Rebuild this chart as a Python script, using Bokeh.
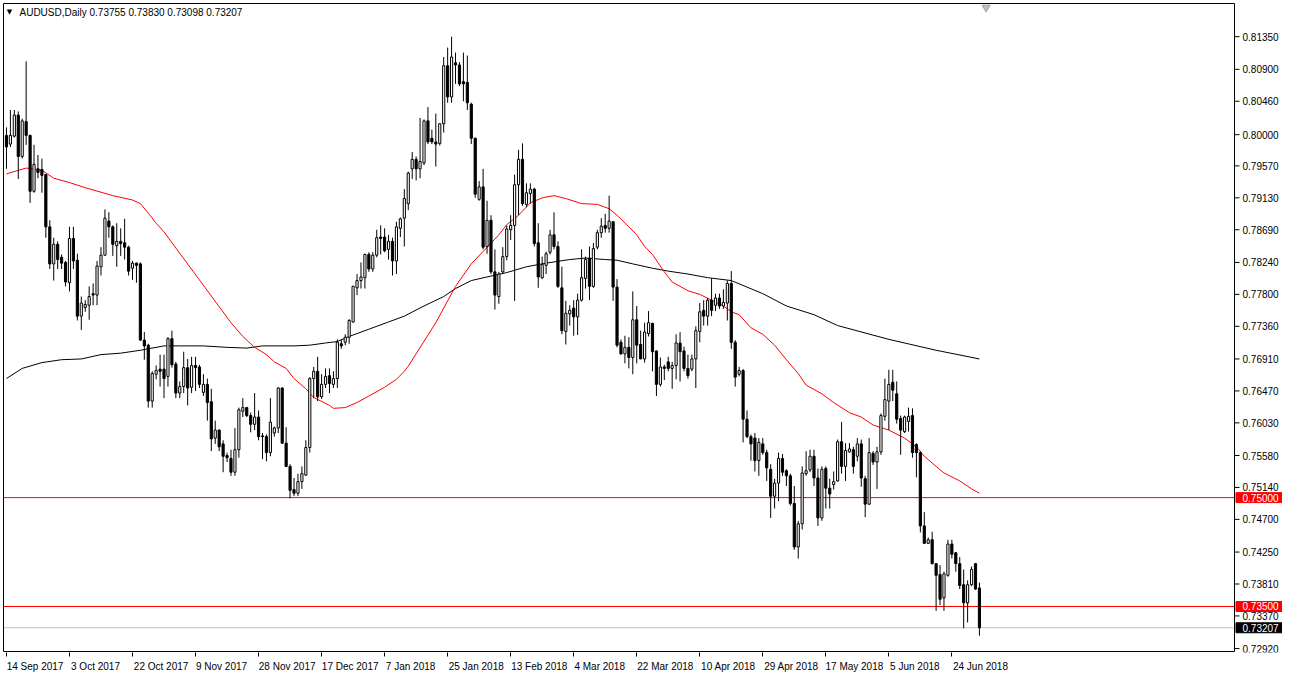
import numpy as np
from bokeh.plotting import figure
from bokeh.models import (Range1d, LinearAxis, FixedTicker, ColumnDataSource,
                          CustomJSTickFormatter)
from bokeh.core.properties import value
from bokeh.embed import file_html
from bokeh.resources import INLINE

symbol = "AUDUSD"
timeframe = "Daily"

opens = [
    0.7999, 0.7987, 0.7998, 0.8027, 0.7970, 0.8018, 0.7999, 0.7922, 0.7953, 0.7952,
    0.7945, 0.7873, 0.7822, 0.7849, 0.7831, 0.7824, 0.7796, 0.7857, 0.7827, 0.7750,
    0.7762, 0.7765, 0.7781, 0.7779, 0.7818, 0.7834, 0.7881, 0.7873, 0.7847, 0.7853,
    0.7851, 0.7845, 0.7816, 0.7823, 0.7822, 0.7717, 0.7710, 0.7633, 0.7670, 0.7677,
    0.7677, 0.7667, 0.7719, 0.7684, 0.7644, 0.7653, 0.7679, 0.7652, 0.7682, 0.7680,
    0.7645, 0.7656, 0.7632, 0.7582, 0.7593, 0.7574, 0.7558, 0.7554, 0.7535, 0.7566,
    0.7619, 0.7624, 0.7613, 0.7601, 0.7611, 0.7585, 0.7584, 0.7562, 0.7589, 0.7596,
    0.7651, 0.7575, 0.7543, 0.7511, 0.7506, 0.7522, 0.7531, 0.7569, 0.7664, 0.7674,
    0.7639, 0.7656, 0.7668, 0.7656, 0.7664, 0.7712, 0.7714, 0.7721, 0.7742, 0.7789,
    0.7799, 0.7803, 0.7835, 0.7815, 0.7834, 0.7859, 0.7859, 0.7842, 0.7853, 0.7826,
    0.7871, 0.7885, 0.7905, 0.7953, 0.7966, 0.7953, 0.7961, 0.8019, 0.7995, 0.7990,
    0.7988, 0.8015, 0.8095, 0.8052, 0.8099, 0.8096, 0.8073, 0.8072, 0.8042, 0.7995,
    0.7911, 0.7928, 0.7846, 0.7882, 0.7811, 0.7777, 0.7811, 0.7832, 0.7869, 0.7875,
    0.7931, 0.7966, 0.7904, 0.7919, 0.7925, 0.7851, 0.7803, 0.7820, 0.7838, 0.7862,
    0.7846, 0.7789, 0.7729, 0.7753, 0.7761, 0.7749, 0.7772, 0.7802, 0.7830, 0.7791,
    0.7845, 0.7865, 0.7875, 0.7871, 0.7880, 0.7790, 0.7714, 0.7698, 0.7707, 0.7693,
    0.7745, 0.7711, 0.7691, 0.7726, 0.7740, 0.7702, 0.7656, 0.7680, 0.7687, 0.7678,
    0.7682, 0.7713, 0.7702, 0.7678, 0.7677, 0.7691, 0.7729, 0.7758, 0.7750, 0.7772,
    0.7765, 0.7775, 0.7764, 0.7768, 0.7795, 0.7714, 0.7670, 0.7675, 0.7608, 0.7584,
    0.7582, 0.7551, 0.7574, 0.7562, 0.7539, 0.7502, 0.7520, 0.7554, 0.7537, 0.7530,
    0.7492, 0.7432, 0.7464, 0.7533, 0.7538, 0.7557, 0.7527, 0.7472, 0.7540, 0.7513,
    0.7518, 0.7523, 0.7577, 0.7543, 0.7563, 0.7566, 0.7557, 0.7574, 0.7526, 0.7491,
    0.7561, 0.7549, 0.7563, 0.7612, 0.7633, 0.7659, 0.7643, 0.7609, 0.7591, 0.7605,
    0.7613, 0.7573, 0.7562, 0.7461, 0.7437, 0.7442, 0.7409, 0.7394, 0.7362, 0.7393,
    0.7436, 0.7424, 0.7409, 0.7380, 0.7355, 0.7380, 0.7409, 0.73755,
]
highs = [
    0.8010, 0.8034, 0.8034, 0.8032, 0.8022, 0.8101, 0.8000, 0.7986, 0.7972, 0.7967,
    0.7946, 0.7882, 0.7858, 0.7853, 0.7835, 0.7826, 0.7873, 0.7873, 0.7836, 0.7777,
    0.7772, 0.7791, 0.7795, 0.7826, 0.7845, 0.7897, 0.7893, 0.7875, 0.7878, 0.7871,
    0.7884, 0.7847, 0.7826, 0.7824, 0.7824, 0.7728, 0.7712, 0.7674, 0.7682, 0.7697,
    0.7697, 0.7721, 0.7730, 0.7687, 0.7660, 0.7701, 0.7691, 0.7694, 0.7694, 0.7683,
    0.7670, 0.7664, 0.7650, 0.7606, 0.7594, 0.7579, 0.7562, 0.7566, 0.7596, 0.7624,
    0.7637, 0.7625, 0.7617, 0.7644, 0.7620, 0.7589, 0.7587, 0.7637, 0.7598, 0.7652,
    0.7652, 0.7597, 0.7546, 0.7527, 0.7533, 0.7543, 0.7579, 0.7666, 0.7680, 0.7694,
    0.7670, 0.7678, 0.7678, 0.7674, 0.7718, 0.7718, 0.7725, 0.7746, 0.7792, 0.7808,
    0.7824, 0.7836, 0.7838, 0.7838, 0.7869, 0.7875, 0.7871, 0.7862, 0.7858, 0.7880,
    0.7886, 0.7925, 0.7949, 0.7976, 0.7970, 0.8023, 0.8021, 0.8038, 0.8007, 0.8029,
    0.8016, 0.8107, 0.8120, 0.8135, 0.8113, 0.8100, 0.8113, 0.8109, 0.8044, 0.7996,
    0.7936, 0.7953, 0.7909, 0.7889, 0.7842, 0.7811, 0.7845, 0.7875, 0.7889, 0.7945,
    0.7979, 0.7988, 0.7933, 0.7933, 0.7927, 0.7878, 0.7832, 0.7839, 0.7869, 0.7893,
    0.7853, 0.7818, 0.7771, 0.7765, 0.7772, 0.7781, 0.7842, 0.7832, 0.7846, 0.7851,
    0.7869, 0.7885, 0.7891, 0.7916, 0.7881, 0.7801, 0.7718, 0.7723, 0.7721, 0.7784,
    0.7764, 0.7730, 0.7741, 0.7757, 0.7741, 0.7703, 0.7693, 0.7683, 0.7694, 0.7687,
    0.7725, 0.7728, 0.7708, 0.7697, 0.7697, 0.7736, 0.7768, 0.7772, 0.7775, 0.7802,
    0.7781, 0.7781, 0.7787, 0.7799, 0.7812, 0.7717, 0.7680, 0.7677, 0.7620, 0.7587,
    0.7589, 0.7582, 0.7582, 0.7566, 0.7546, 0.7526, 0.7562, 0.7560, 0.7539, 0.7533,
    0.7516, 0.7468, 0.7543, 0.7564, 0.7566, 0.7566, 0.7540, 0.7543, 0.7543, 0.7526,
    0.7536, 0.7580, 0.7604, 0.7575, 0.7575, 0.7570, 0.7582, 0.7580, 0.7530, 0.7582,
    0.7564, 0.7570, 0.7616, 0.7664, 0.7676, 0.7676, 0.7660, 0.7613, 0.7613, 0.7624,
    0.7623, 0.7575, 0.7564, 0.7480, 0.7445, 0.7453, 0.7410, 0.7407, 0.7398, 0.7442,
    0.7442, 0.7425, 0.7418, 0.7401, 0.7386, 0.7405, 0.7410, 0.73830,
]
lows = [
    0.7953, 0.7983, 0.7996, 0.7939, 0.7967, 0.7986, 0.7906, 0.7920, 0.7940, 0.7920,
    0.7858, 0.7815, 0.7799, 0.7815, 0.7815, 0.7791, 0.7784, 0.7815, 0.7744, 0.7731,
    0.7756, 0.7745, 0.7765, 0.7765, 0.7806, 0.7833, 0.7858, 0.7833, 0.7818, 0.7833,
    0.7828, 0.7806, 0.7800, 0.7796, 0.7716, 0.7690, 0.7624, 0.7624, 0.7663, 0.7653,
    0.7637, 0.7653, 0.7679, 0.7637, 0.7637, 0.7644, 0.7627, 0.7644, 0.7647, 0.7651,
    0.7640, 0.7606, 0.7564, 0.7574, 0.7564, 0.7535, 0.7549, 0.7530, 0.7530, 0.7555,
    0.7611, 0.7611, 0.7590, 0.7593, 0.7579, 0.7553, 0.7550, 0.7557, 0.7584, 0.7589,
    0.7574, 0.7542, 0.7499, 0.7502, 0.7502, 0.7512, 0.7530, 0.7562, 0.7637, 0.7633,
    0.7636, 0.7651, 0.7644, 0.7651, 0.7651, 0.7705, 0.7710, 0.7712, 0.7741, 0.7779,
    0.7788, 0.7788, 0.7811, 0.7811, 0.7831, 0.7835, 0.7838, 0.7828, 0.7806, 0.7808,
    0.7859, 0.7846, 0.7896, 0.7939, 0.7937, 0.7940, 0.7958, 0.7987, 0.7987, 0.7956,
    0.7985, 0.8003, 0.8044, 0.8044, 0.8070, 0.8067, 0.8046, 0.8034, 0.7987, 0.7913,
    0.7909, 0.7842, 0.7836, 0.7808, 0.7759, 0.7767, 0.7808, 0.7827, 0.7855, 0.7771,
    0.7889, 0.7902, 0.7900, 0.7905, 0.7846, 0.7789, 0.7801, 0.7808, 0.7835, 0.7842,
    0.7789, 0.7725, 0.7711, 0.7737, 0.7723, 0.7724, 0.7770, 0.7788, 0.7772, 0.7789,
    0.7842, 0.7858, 0.7865, 0.7865, 0.7771, 0.7707, 0.7697, 0.7685, 0.7678, 0.7670,
    0.7685, 0.7691, 0.7686, 0.7722, 0.7674, 0.7640, 0.7653, 0.7662, 0.7674, 0.7650,
    0.7663, 0.7660, 0.7674, 0.7664, 0.7674, 0.7651, 0.7714, 0.7737, 0.7737, 0.7750,
    0.7757, 0.7760, 0.7760, 0.7744, 0.7705, 0.7653, 0.7667, 0.7576, 0.7582, 0.7551,
    0.7536, 0.7530, 0.7559, 0.7523, 0.7472, 0.7485, 0.7495, 0.7530, 0.7516, 0.7489,
    0.7428, 0.7416, 0.7456, 0.7530, 0.7535, 0.7516, 0.7461, 0.7468, 0.7485, 0.7485,
    0.7511, 0.7522, 0.7533, 0.7523, 0.7562, 0.7533, 0.7550, 0.7515, 0.7473, 0.7490,
    0.7545, 0.7512, 0.7559, 0.7606, 0.7593, 0.7633, 0.7602, 0.7559, 0.7589, 0.7591,
    0.7555, 0.7528, 0.7452, 0.7437, 0.7436, 0.7408, 0.7344, 0.7352, 0.7344, 0.7391,
    0.7416, 0.7398, 0.7374, 0.7320, 0.7328, 0.7378, 0.7373, 0.73098,
]
closes = [
    0.7983, 0.7999, 0.8027, 0.7970, 0.8019, 0.7999, 0.7922, 0.7959, 0.7948, 0.7944,
    0.7873, 0.7822, 0.7849, 0.7828, 0.7823, 0.7797, 0.7857, 0.7826, 0.7750, 0.7768,
    0.7766, 0.7777, 0.7779, 0.7819, 0.7834, 0.7885, 0.7873, 0.7849, 0.7853, 0.7850,
    0.7845, 0.7812, 0.7823, 0.7820, 0.7717, 0.7709, 0.7633, 0.7671, 0.7675, 0.7674,
    0.7664, 0.7719, 0.7683, 0.7644, 0.7653, 0.7679, 0.7651, 0.7682, 0.7679, 0.7656,
    0.7656, 0.7631, 0.7581, 0.7593, 0.7570, 0.7557, 0.7555, 0.7535, 0.7566, 0.7621,
    0.7624, 0.7613, 0.7601, 0.7611, 0.7584, 0.7584, 0.7562, 0.7604, 0.7596, 0.7651,
    0.7575, 0.7543, 0.7510, 0.7506, 0.7522, 0.7533, 0.7569, 0.7664, 0.7674, 0.7639,
    0.7656, 0.7667, 0.7657, 0.7664, 0.7714, 0.7709, 0.7721, 0.7744, 0.7791, 0.7799,
    0.7804, 0.7835, 0.7815, 0.7834, 0.7858, 0.7857, 0.7840, 0.7853, 0.7826, 0.7873,
    0.7884, 0.7912, 0.7947, 0.7966, 0.7953, 0.7963, 0.8019, 0.7990, 0.7990, 0.7987,
    0.8015, 0.8095, 0.8052, 0.8107, 0.8096, 0.8070, 0.8070, 0.8044, 0.7995, 0.7918,
    0.7928, 0.7845, 0.7882, 0.7811, 0.7779, 0.7808, 0.7832, 0.7870, 0.7875, 0.7931,
    0.7966, 0.7905, 0.7920, 0.7925, 0.7850, 0.7804, 0.7821, 0.7836, 0.7862, 0.7846,
    0.7791, 0.7730, 0.7754, 0.7758, 0.7749, 0.7772, 0.7803, 0.7828, 0.7791, 0.7843,
    0.7865, 0.7874, 0.7871, 0.7881, 0.7790, 0.7710, 0.7698, 0.7707, 0.7693, 0.7745,
    0.7710, 0.7691, 0.7728, 0.7741, 0.7701, 0.7656, 0.7680, 0.7678, 0.7678, 0.7682,
    0.7713, 0.7701, 0.7678, 0.7668, 0.7691, 0.7730, 0.7756, 0.7750, 0.7772, 0.7758,
    0.7775, 0.7764, 0.7769, 0.7795, 0.7714, 0.7666, 0.7675, 0.7608, 0.7584, 0.7574,
    0.7551, 0.7576, 0.7562, 0.7541, 0.7502, 0.7520, 0.7554, 0.7535, 0.7530, 0.7492,
    0.7432, 0.7464, 0.7534, 0.7537, 0.7557, 0.7527, 0.7472, 0.7539, 0.7513, 0.7505,
    0.7522, 0.7577, 0.7543, 0.7565, 0.7567, 0.7543, 0.7574, 0.7527, 0.7491, 0.7562,
    0.7549, 0.7563, 0.7613, 0.7635, 0.7656, 0.7648, 0.7608, 0.7593, 0.7611, 0.7612,
    0.7562, 0.7562, 0.7461, 0.7437, 0.7442, 0.7409, 0.7393, 0.7360, 0.7395, 0.7436,
    0.7422, 0.7409, 0.7379, 0.7355, 0.7380, 0.7401, 0.7374, 0.73207,
]

# 50-period moving average (red), sampled at bar indices
ma_fast_bars = [0, 5, 9, 12, 16, 20, 27, 32, 34, 36, 38, 40, 57, 60, 63, 66, 68, 71,
                73, 76, 78, 82, 83, 86, 89, 92, 96, 99, 101, 102, 109, 114, 118, 121,
                125, 127, 130, 133, 136, 139, 142, 146, 150, 153, 155, 158, 160, 162,
                164, 167, 169, 173, 176, 179, 182, 184, 186, 189, 192, 195, 198, 201,
                203, 207, 210, 214, 217, 220, 224, 228, 231, 233, 236, 238, 242, 245, 247]
ma_fast_vals = [0.7946, 0.7954, 0.7951, 0.7940, 0.7934, 0.7927, 0.7916, 0.7910, 0.7905,
                0.7892, 0.7878, 0.7866, 0.7741, 0.7722, 0.7707, 0.7697, 0.7687, 0.7678,
                0.7664, 0.7650, 0.7638, 0.7627, 0.7623, 0.7624, 0.7631, 0.7640, 0.7652,
                0.7663, 0.7674, 0.7681, 0.7741, 0.7791, 0.7822, 0.7839, 0.7862, 0.7876,
                0.7889, 0.7906, 0.7913, 0.7916, 0.7912, 0.7905, 0.7904, 0.7898, 0.7889,
                0.7873, 0.7862, 0.7846, 0.7835, 0.7811, 0.7797, 0.7785, 0.7780, 0.7772,
                0.7764, 0.7756, 0.7752, 0.7734, 0.7725, 0.7710, 0.7690, 0.7671, 0.7655,
                0.7643, 0.7631, 0.7617, 0.7611, 0.7600, 0.7593, 0.7582, 0.7570, 0.7557,
                0.7543, 0.7534, 0.7523, 0.7512, 0.7506]

# 200-period moving average (black), sampled at bar indices
ma_slow_bars = [0, 4, 9, 14, 19, 24, 29, 34, 40, 50, 56, 61, 65, 73, 77, 81, 84, 87,
                92, 97, 101, 106, 111, 114, 118, 122, 127, 132, 137, 143, 147, 152, 155,
                159, 164, 168, 173, 178, 184, 192, 198, 205, 211, 224, 236, 247]
ma_slow_vals = [0.7664, 0.7678, 0.7686, 0.7690, 0.7691, 0.7697, 0.7699, 0.7703, 0.7709,
                0.7709, 0.7707, 0.7706, 0.7709, 0.7709, 0.7710, 0.7713, 0.7715, 0.7722,
                0.7732, 0.7742, 0.7750, 0.7764, 0.7777, 0.7788, 0.7799, 0.7804, 0.7810,
                0.7818, 0.7823, 0.7828, 0.7830, 0.7828, 0.7827, 0.7822, 0.7816, 0.7812,
                0.7808, 0.7803, 0.7799, 0.7781, 0.7764, 0.7752, 0.7737, 0.7718, 0.7703,
                0.7691]

date_labels = ["14 Sep 2017", "3 Oct 2017", "22 Oct 2017", "9 Nov 2017", "28 Nov 2017",
               "17 Dec 2017", "7 Jan 2018", "25 Jan 2018", "13 Feb 2018", "4 Mar 2018",
               "22 Mar 2018", "10 Apr 2018", "29 Apr 2018", "17 May 2018", "5 Jun 2018",
               "24 Jun 2018"]
date_label_bars = [0, 16, 32, 48, 64, 80, 96, 112, 128, 144, 160, 176, 192, 208, 224, 240]

price_ticks = [0.81350, 0.80900, 0.80460, 0.80000, 0.79570, 0.79130, 0.78690, 0.78240,
               0.77800, 0.77360, 0.76910, 0.76470, 0.76030, 0.75580, 0.75140, 0.74700,
               0.74250, 0.73810, 0.73370, 0.72920]
level_lines = [0.75000, 0.73500]

# ---------------------------------------------------------------------------
FONT = "Liberation Sans"
W, H = 1282, 674
BORDER_L, BORDER_T, AXIS_H = 2, 2, 20
SCALE_W = 48                      # width of the price scale, px

n = len(closes)
idx = np.arange(n)
o = np.array(opens); h = np.array(highs); l = np.array(lows); c = np.array(closes)
bull = c >= o

chart_l, chart_r = -0.75, 311.75        # chart window in bar units
chart_b, chart_t = 0.72880, 0.81807     # chart window in price units
frame_w = W - BORDER_L
frame_h = H - BORDER_T - AXIS_H
ppb = (frame_w - 1 - SCALE_W) / (chart_r - chart_l)     # px per bar
ppp = (frame_h - 2) / (chart_t - chart_b)               # px per price unit
x0 = chart_l - 1 / ppb
x1 = chart_r + SCALE_W / ppb
y0 = chart_b - 1 / ppp
y1 = chart_t + 1 / ppp

p = figure(width=W, height=H, x_range=Range1d(x0, x1), y_range=Range1d(y0, y1),
           output_backend="svg", toolbar_location=None,
           x_axis_location=None, y_axis_location=None,
           min_border_left=BORDER_L, min_border_top=BORDER_T,
           min_border_right=0, min_border_bottom=0)
p.xgrid.visible = False
p.ygrid.visible = False
p.outline_line_color = None
p.background_fill_color = "white"
p.border_fill_color = "white"

# date scale at the bottom: labels left-aligned to their date (MT4 style)
label_pos = [b + len(s) * 2.6 / ppb for b, s in zip(date_label_bars, date_labels)]
xaxis = LinearAxis(ticker=FixedTicker(ticks=label_pos, minor_ticks=date_label_bars),
                   formatter=CustomJSTickFormatter(args=dict(pos=label_pos, labs=date_labels), code="""
    let best = 0, d = Infinity;
    for (let i = 0; i < pos.length; i++) {
        const e = Math.abs(pos[i] - tick);
        if (e < d) { d = e; best = i; }
    }
    return labs[best];
"""))
xaxis.axis_line_color = None
xaxis.major_tick_out = 0
xaxis.major_tick_in = 0
xaxis.minor_tick_out = 4
xaxis.minor_tick_in = 0
xaxis.minor_tick_line_color = "black"
xaxis.major_label_standoff = 4
xaxis.major_label_text_font = FONT
xaxis.major_label_text_font_size = "10px"
xaxis.major_label_text_color = "black"
p.add_layout(xaxis, "below")

# horizontal price levels (chart window only)
p.segment(x0=[chart_l] * len(level_lines), x1=[chart_r] * len(level_lines),
          y0=level_lines, y1=level_lines, line_color="#FF0000", line_width=1)
p.segment(x0=[chart_l], x1=[chart_r], y0=[closes[-1]], y1=[closes[-1]],
          line_color="#C0C0C0", line_width=1)

# moving averages
p.line(ma_slow_bars, ma_slow_vals, line_color="black", line_width=1)
p.line(ma_fast_bars, ma_fast_vals, line_color="#FF0000", line_width=1)

# candles
src_up = ColumnDataSource(dict(x=idx[bull], o=o[bull], c=c[bull]))
src_dn = ColumnDataSource(dict(x=idx[~bull], o=o[~bull], c=c[~bull]))
hi = np.maximum(h, np.maximum(o, c))
lo = np.minimum(l, np.minimum(o, c))
p.segment(x0=idx, y0=lo, x1=idx, y1=hi, line_color="black", line_width=1)
p.vbar(x="x", width=0.55, top="c", bottom="o", source=src_up,
       fill_color="white", line_color="black", line_width=1)
p.vbar(x="x", width=0.55, top="o", bottom="c", source=src_dn,
       fill_color="black", line_color="black", line_width=1)

# chart window border
p.quad(left=[chart_l], right=[chart_r], bottom=[chart_b], top=[chart_t],
       fill_color=None, line_color="black", line_width=1)

# chart shift marker at the top
p.scatter(x=[n + 0.7], y=[chart_t - 4 / ppp], marker="inverted_triangle", size=8,
          fill_color="#C0C0C0", line_color="#A0A0A0")

# header
p.text(x=[chart_l + 3.2 / ppb], y=[chart_t - 9 / ppp], text=["\u25BC"],
       text_font=value("DejaVu Sans"), text_font_size="7px", text_color="black",
       text_baseline="middle", text_align="left")
header = f"{symbol},{timeframe}  {opens[-1]:.5f} {highs[-1]:.5f} {lows[-1]:.5f} {closes[-1]:.5f}"
p.text(x=[chart_l + 16 / ppb], y=[chart_t - 9 / ppp], text=[header],
       text_font=value(FONT), text_font_size="10px", text_color="black",
       text_baseline="middle", text_align="left")

# price scale: tick marks and labels
p.segment(x0=[chart_r] * len(price_ticks), x1=[chart_r + 5 / ppb] * len(price_ticks),
          y0=price_ticks, y1=price_ticks, line_color="black", line_width=1)
p.text(x=[chart_r + 8 / ppb] * len(price_ticks), y=price_ticks,
       text=[f"{t:.5f}" for t in price_ticks],
       text_font=value(FONT), text_font_size="10px", text_color="black",
       text_baseline="middle", text_align="left")

# price boxes on the scale
box_vals = [level_lines[0], level_lines[1], closes[-1]]
box_cols = ["#FF0000", "#FF0000", "black"]
box_h = 10 / ppp
p.quad(left=[chart_r + 1.5 / ppb] * 3, right=[x1] * 3,
       bottom=[v - box_h / 2 for v in box_vals], top=[v + box_h / 2 for v in box_vals],
       fill_color=box_cols, line_color=box_cols)
p.text(x=[chart_r + 8 / ppb] * 3, y=box_vals, text=[f"{v:.5f}" for v in box_vals],
       text_font=value(FONT), text_font_size="10px", text_color="white",
       text_baseline="middle", text_align="left")

open("out.html", "w").write(file_html(p, INLINE))
